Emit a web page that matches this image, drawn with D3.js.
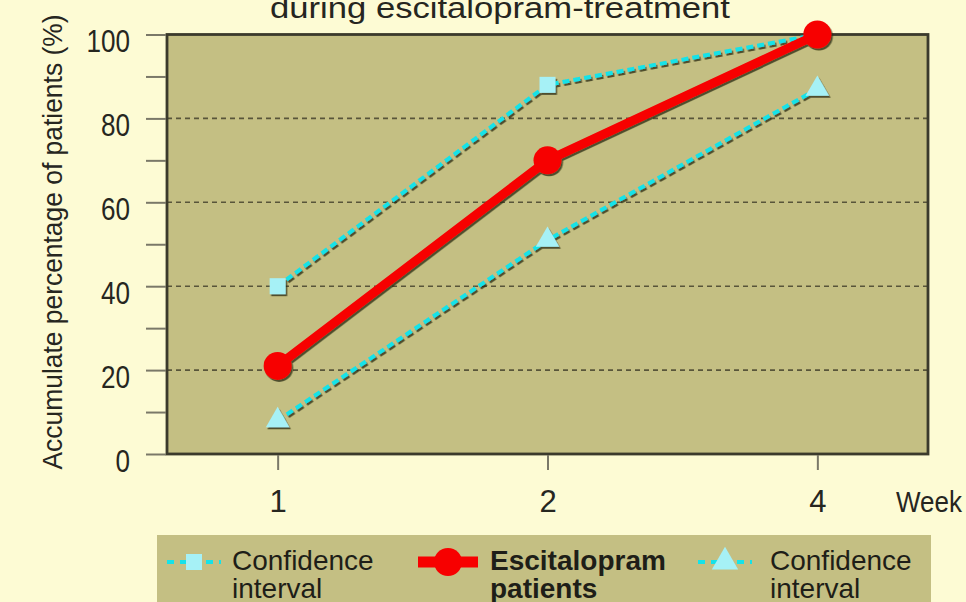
<!DOCTYPE html>
<html>
<head>
<meta charset="utf-8">
<script src="https://cdn.jsdelivr.net/npm/d3@7"></script>
<style>
  html, body { margin: 0; padding: 0; background: #fdfbd4; }
  svg { display: block; font-family: "Liberation Sans", Arial, sans-serif; }
</style>
</head>
<body>
<svg id="chart" width="966" height="602"></svg>
<script>
// data
var weeks = ["1", "2", "4"];
var escitalopram = [21, 70, 100];
var upperCI = [40, 88, 100];
var lowerCI = [8, 51, 87];
var yTicks = [0, 10, 20, 30, 40, 50, 60, 70, 80, 90, 100];
var legendLabels = [["Confidence", "interval"], ["Escitalopram", "patients"], ["Confidence", "interval"]];

var svg = d3.select("#chart");
var plot = { left: 167, top: 34.5, right: 928, bottom: 454 };

var olive = "#c4bf83", frame = "#3b3a2c", cyan = "#16e2e8", cyanFill = "#a6f1f6", red = "#f70000";
var ink = "#26261f";

// squeeze text to a given width (the original font is a narrow one)
function fit(sel, w) {
  sel.attr("textLength", w).attr("lengthAdjust", "spacingAndGlyphs");
}

var defs = svg.append("defs");
var f = defs.append("filter").attr("id", "shadow").attr("x", "-20%").attr("y", "-20%").attr("width", "140%").attr("height", "140%");
f.append("feDropShadow").attr("dx", 1.5).attr("dy", 2).attr("stdDeviation", 0.6)
  .attr("flood-color", "#2c2a18").attr("flood-opacity", 0.75);

// scales
var x = d3.scalePoint().domain(weeks).range([plot.left, plot.right]).padding(0.41);
var y = d3.scaleLinear().domain([0, 100]).range([plot.bottom, plot.top]);

// title (only its second line is in view)
svg.append("text")
  .attr("x", 500).attr("y", 18)
  .attr("text-anchor", "middle")
  .style("font-size", "30px").attr("fill", ink)
  .text("during escitalopram-treatment")
  .call(fit, 460);

// plot background
svg.append("rect")
  .attr("x", plot.left).attr("y", plot.top)
  .attr("width", plot.right - plot.left).attr("height", plot.bottom - plot.top)
  .attr("fill", olive);

// dashed grid lines
svg.append("g").selectAll("line")
  .data([20, 40, 60, 80])
  .enter().append("line")
  .attr("x1", plot.left).attr("x2", plot.right)
  .attr("y1", function(d){ return y(d); }).attr("y2", function(d){ return y(d); })
  .attr("stroke", "#58553a").attr("stroke-width", 1.6)
  .attr("stroke-dasharray", "5,4");

// frame
svg.append("rect")
  .attr("x", plot.left).attr("y", plot.top)
  .attr("width", plot.right - plot.left).attr("height", plot.bottom - plot.top)
  .attr("fill", "none").attr("stroke", frame).attr("stroke-width", 2.8);

// y axis
var yAxis = d3.axisLeft(y)
  .tickValues(yTicks)
  .tickSize(20)
  .tickPadding(16)
  .tickFormat(function(d){ return d % 20 === 0 ? d : ""; });

var gy = svg.append("g")
  .attr("transform", "translate(" + (plot.left - 1) + ",0)")
  .call(yAxis);
gy.select(".domain").remove();
gy.selectAll(".tick line").attr("stroke", "#7a7868").attr("stroke-width", 2);
gy.selectAll(".tick text")
  .attr("dy", "0.55em")
  .style("font-size", "31px").attr("fill", ink).attr("font-family", null)
  .each(function(d){
    var t = String(d % 20 === 0 ? d : "");
    if (t) d3.select(this).call(fit, t.length * 14.5);
  });

// x axis
var xAxis = d3.axisBottom(x).tickSize(15).tickPadding(20);
var gx = svg.append("g")
  .attr("transform", "translate(0," + (plot.bottom + 1) + ")")
  .call(xAxis);
gx.select(".domain").remove();
gx.selectAll(".tick line").attr("stroke", "#7a7868").attr("stroke-width", 2);
gx.selectAll(".tick text")
  .style("font-size", "31px").attr("fill", ink).attr("font-family", null);

svg.append("text")
  .attr("x", 962).attr("y", 512)
  .attr("text-anchor", "end")
  .style("font-size", "30px").attr("fill", ink)
  .text("Week")
  .call(fit, 66);

// y axis title
svg.append("text")
  .attr("transform", "translate(62,242) rotate(-90)")
  .attr("text-anchor", "middle")
  .style("font-size", "27px").attr("fill", ink)
  .text("Accumulate percentage of patients (%)")
  .call(fit, 455);

// series
var line = d3.line()
  .x(function(d, i){ return x(weeks[i]); })
  .y(function(d){ return y(d); });

var series = svg.append("g").attr("filter", "url(#shadow)");

function ciSeries(values, shape, size) {
  var g = series.append("g");
  g.append("path")
    .datum(values)
    .attr("d", line)
    .attr("fill", "none").attr("stroke", cyan)
    .attr("stroke-width", 4).attr("stroke-dasharray", "7,4");
  g.selectAll("path.m")
    .data(values)
    .enter().append("path").attr("class", "m")
    .attr("transform", function(d, i){ return "translate(" + x(weeks[i]) + "," + y(d) + ")"; })
    .attr("d", d3.symbol().type(shape).size(size))
    .attr("fill", cyanFill);
}

ciSeries(upperCI, d3.symbolSquare, 256);
ciSeries(lowerCI, d3.symbolTriangle, 240);

var gm = series.append("g");
gm.append("path")
  .datum(escitalopram)
  .attr("d", line)
  .attr("fill", "none").attr("stroke", red)
  .attr("stroke-width", 9).attr("stroke-linejoin", "round");
gm.selectAll("circle")
  .data(escitalopram)
  .enter().append("circle")
  .attr("cx", function(d, i){ return x(weeks[i]); })
  .attr("cy", function(d){ return y(d); })
  .attr("r", 14)
  .attr("fill", red);

// legend
svg.append("rect")
  .attr("x", 157).attr("y", 535)
  .attr("width", 774).attr("height", 80)
  .attr("fill", olive);

var legendItems = [
  { x0: 167, x1: 221, tx: 232, kind: "square", bold: false },
  { x0: 418, x1: 478, tx: 490, kind: "circle", bold: true },
  { x0: 698, x1: 752, tx: 770, kind: "triangle", bold: false }
];
var ly = 562;

legendItems.forEach(function(it, i){
  var g = svg.append("g");
  var mx = (it.x0 + it.x1) / 2;
  if (it.kind === "circle") {
    g.append("line").attr("x1", it.x0).attr("x2", it.x1).attr("y1", ly).attr("y2", ly)
      .attr("stroke", red).attr("stroke-width", 11);
    g.append("circle").attr("cx", mx).attr("cy", ly).attr("r", 14).attr("fill", red);
  } else {
    g.append("line").attr("x1", it.x0).attr("x2", it.x1).attr("y1", ly).attr("y2", ly)
      .attr("stroke", cyan).attr("stroke-width", 4).attr("stroke-dasharray", "7,6");
    g.append("path")
      .attr("transform", "translate(" + mx + "," + ly + ")")
      .attr("d", d3.symbol().type(it.kind === "square" ? d3.symbolSquare : d3.symbolTriangle)
        .size(it.kind === "square" ? 256 : 300))
      .attr("fill", cyanFill);
  }
  legendLabels[i].forEach(function(s, k){
    g.append("text")
      .attr("x", it.tx).attr("y", 570 + k * 28)
      .style("font-size", "28px").attr("fill", "#1e1e18")
      .style("font-weight", it.bold ? "bold" : "normal")
      .text(s);
  });
});
</script>
</body>
</html>
